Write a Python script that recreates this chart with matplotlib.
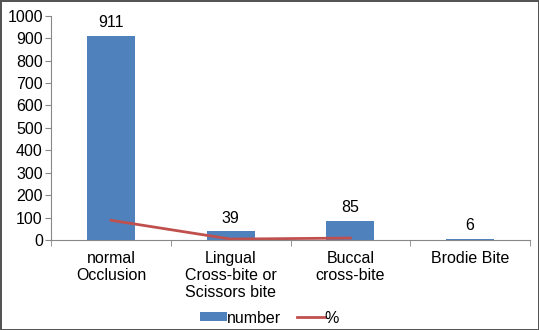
import numpy as np
import matplotlib.pyplot as plt

plt.rcParams['font.family'] = ['Liberation Sans', 'DejaVu Sans']

categories = ['normal\nOcclusion', 'Lingual\nCross-bite or\nScissors bite', 'Buccal\ncross-bite', 'Brodie Bite']
number = [911, 39, 85, 6]
percent = [87.5, 3.7, 8.2, np.nan]

fig = plt.figure(figsize=(5.39, 3.30), dpi=100, edgecolor='#555555', linewidth=2)
ax = fig.add_axes([0.095, 0.273, 0.888, 0.679])

x = np.arange(len(categories))
bars = ax.bar(x, number, width=0.4, color='#4F81BD', label='number')
line, = ax.plot(x, percent, color='#C0504D', lw=2, label='%')
for xi, v in zip(x, number):
  ax.text(xi, v + 25, str(v), ha='center', va='bottom', fontsize=11.5)

ax.set_xlim(-0.5, 3.5)
ax.set_ylim(0, 1000)
ax.set_yticks(range(0, 1001, 100))
ax.set_xticks(x)
ax.set_xticklabels(categories, fontsize=11.5, linespacing=1.15)
ax.set_xticks(np.arange(-0.5, 4, 1), minor=True)
ax.tick_params(axis='x', which='major', length=0, pad=8)
ax.tick_params(axis='x', which='minor', length=4, color='#888888')
ax.tick_params(axis='y', length=4, color='#888888', labelsize=11.5, pad=2)
for s in ['top', 'right']:
  ax.spines[s].set_visible(False)
for s in ['left', 'bottom']:
  ax.spines[s].set_color('#888888')

fig.legend([bars, line], ['number', '%'], loc='lower center', bbox_to_anchor=(0.5, -0.03),
           ncol=2, frameon=False, fontsize=11.5, handlelength=1.7, handleheight=0.5,
           columnspacing=1.0, handletextpad=0.0)

fig.savefig('out.png', dpi=100)
